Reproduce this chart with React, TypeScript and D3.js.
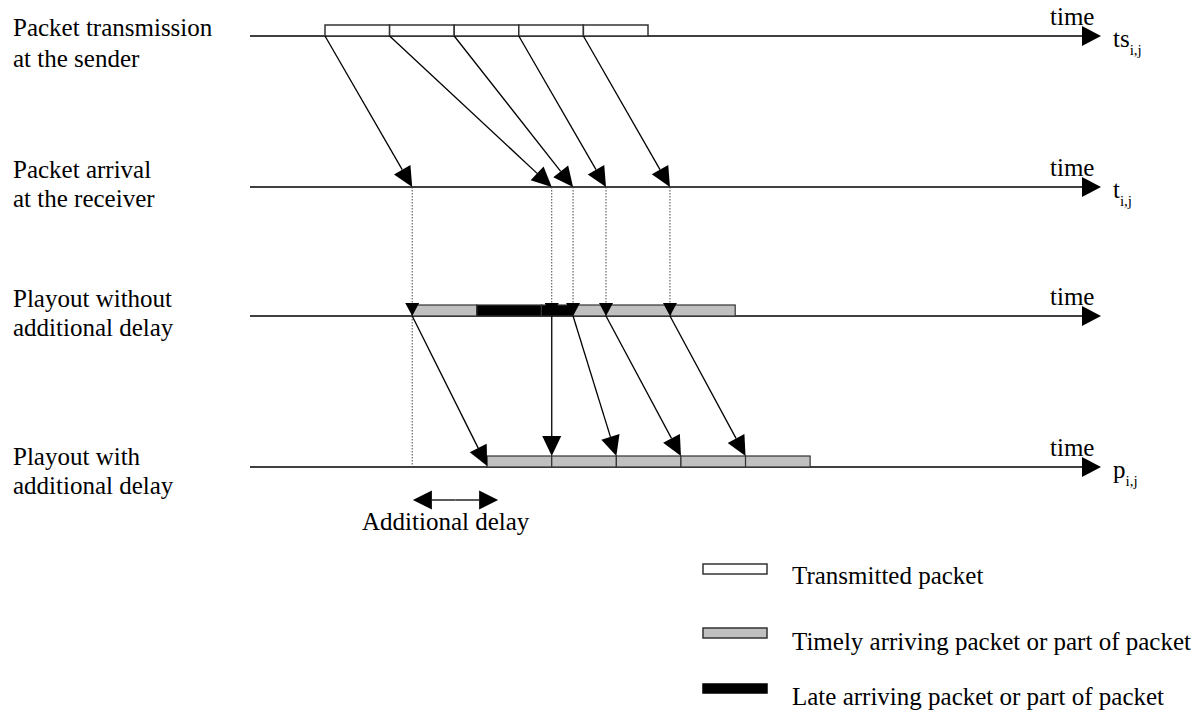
import React from "react";
import * as d3 from "d3";

// ---- data (time in packet-duration units) ----
const packetIds = [1, 2, 3, 4, 5];
const sendTimes = [0, 1, 2, 3, 4];
const arrivalTimes = [1.35, 3.51, 3.84, 4.35, 5.34];
const packetDuration = 1;
const playoutStartNoDelay = 1.35;
const playoutStartDelayed = 2.51;
const delayAnnotation = [1.36, 2.68];

const rowLabels = [
  ["Packet transmission", "at the sender"],
  ["Packet arrival", "at the receiver"],
  ["Playout without", "additional delay"],
  ["Playout with", "additional delay"],
];
const rowSymbols = [["ts", "i,j"], ["t", "i,j"], null, ["p", "i,j"]];
const axisLabel = "time";
const delayLabel = "Additional delay";
const legendItems = [
  { label: "Transmitted packet", kind: "sent" },
  { label: "Timely arriving packet or part of packet", kind: "timely" },
  { label: "Late arriving packet or part of packet", kind: "late" },
];

// ---- layout ----
const W = 1204;
const H = 713;
const rowY = [36, 187, 316, 467];
const labelBase = [[36, 67], [178, 207], [307, 336], [465, 494]];
const axisX0 = 250;
const axisTip = 1101;
const barH = 11;
const FONT = "Liberation Serif, Times New Roman, serif";
const textStyle = { fontFamily: FONT };

const x = d3.scaleLinear().domain([0, 1]).range([325, 389.6]);

const fillFor: Record<string, string> = { sent: "#ffffff", timely: "#c0c0c0", late: "#000000" };

function head(x1: number, y1: number, x2: number, y2: number, L: number, Wd: number) {
  const dx = x2 - x1, dy = y2 - y1;
  const len = Math.hypot(dx, dy);
  const ux = dx / len, uy = dy / len;
  const bx = x2 - ux * L, by = y2 - uy * L;
  const px = -uy * (Wd / 2), py = ux * (Wd / 2);
  return {
    bx, by,
    pts: `${x2},${y2} ${bx + px},${by + py} ${bx - px},${by - py}`,
  };
}

function Arrow({ x1, y1, x2, y2, L = 20, Wd = 19 }: any) {
  const h = head(x1, y1, x2, y2, L, Wd);
  return (
    <g>
      <line x1={x1} y1={y1} x2={h.bx} y2={h.by} stroke="#000" strokeWidth={1.3} />
      <polygon points={h.pts} fill="#000" />
    </g>
  );
}

function T({ x: tx, y: ty, size = 25, children }: any) {
  return (
    <text x={tx} y={ty} fontSize={size} fill="#000" style={textStyle}>{children}</text>
  );
}

export default function App() {
  // playout without delay: split into timely / late segments
  const segments: { s: number; e: number; kind: string }[] = [];
  packetIds.forEach((_, k) => {
    const s = playoutStartNoDelay + k * packetDuration;
    const e = s + packetDuration;
    const a = arrivalTimes[k];
    if (a <= s) segments.push({ s, e, kind: "timely" });
    else if (a >= e) segments.push({ s, e, kind: "late" });
    else {
      segments.push({ s, e: a, kind: "late" });
      segments.push({ s: a, e, kind: "timely" });
    }
  });

  return (
    <svg width={W} height={H} style={{ display: "block", position: "absolute", left: 0, top: 0, background: "#fff", fontFamily: FONT }}>
      <rect x={0} y={0} width={W} height={H} fill="#fff" />
      {/* row labels */}
      {rowLabels.map((lines, i) => (
        <g key={"lab" + i}>
          {lines.map((t, j) => (
            <T key={j} x={13} y={labelBase[i][j]}>{t}</T>
          ))}
        </g>
      ))}
      {/* axes */}
      {rowY.map((y, i) => (
        <g key={"ax" + i}>
          <Arrow x1={axisX0} y1={y} x2={axisTip} y2={y} L={19} Wd={20} />
          <T x={1050} y={y - 11}>{axisLabel}</T>
          {rowSymbols[i] && (
            <T x={1113} y={y + 11}>
              {rowSymbols[i]![0]}
              <tspan dy={8} fontSize={15}>{rowSymbols[i]![1]}</tspan>
            </T>
          )}
        </g>
      ))}
      {/* dotted guide lines */}
      {arrivalTimes.map((a, k) => (
        <line key={"dot" + k} x1={x(a)} x2={x(a)} y1={rowY[1]} y2={k === 0 ? rowY[3] - 2 : rowY[2] - 13}
          stroke="#444" strokeWidth={1} strokeDasharray="1.5,1.5" />
      ))}
      {/* sender packets */}
      {sendTimes.map((s, k) => (
        <rect key={"sp" + k} x={x(s)} y={rowY[0] - barH} width={x(s + packetDuration) - x(s)} height={barH}
          fill={fillFor.sent} stroke="#333" strokeWidth={1.5} />
      ))}
      {/* playout without delay */}
      {segments.map((sg, i) => (
        <rect key={"pw" + i} x={x(sg.s)} y={rowY[2] - barH} width={x(sg.e) - x(sg.s)} height={barH}
          fill={fillFor[sg.kind]} stroke="#333" strokeWidth={1.2} />
      ))}
      {/* playout with delay */}
      {packetIds.map((_, k) => {
        const s = playoutStartDelayed + k * packetDuration;
        return (
          <rect key={"pd" + k} x={x(s)} y={rowY[3] - barH} width={x(s + packetDuration) - x(s)} height={barH}
            fill={fillFor.timely} stroke="#333" strokeWidth={1.2} />
        );
      })}
      {/* arrival triangles on playout row */}
      {arrivalTimes.map((a, k) => {
        const h = head(x(a), rowY[2] - 20, x(a), rowY[2], 13, 14);
        return <polygon key={"tri" + k} points={h.pts} fill="#000" />;
      })}
      {/* sender -> receiver arrows */}
      {sendTimes.map((s, k) => (
        <Arrow key={"sa" + k} x1={x(s)} y1={rowY[0]} x2={x(arrivalTimes[k])} y2={rowY[1]} />
      ))}
      {/* playout arrows */}
      {arrivalTimes.map((a, k) => {
        const target = playoutStartDelayed + k * packetDuration;
        const y2 = k === 0 ? rowY[3] - 1 : rowY[3] - barH;
        return <Arrow key={"pa" + k} x1={x(a)} y1={rowY[2]} x2={x(target)} y2={y2} />;
      })}
      {/* additional delay annotation */}
      {(() => {
        const xa = x(delayAnnotation[0]), xb = x(delayAnnotation[1]);
        const y = 500;
        const mid = (xa + xb) / 2;
        return (
          <g>
            <Arrow x1={mid} y1={y} x2={xa} y2={y} L={19} Wd={19} />
            <Arrow x1={mid} y1={y} x2={xb} y2={y} L={19} Wd={19} />
            <T x={362} y={530}>{delayLabel}</T>
          </g>
        );
      })()}
      {/* legend */}
      {legendItems.map((it, i) => {
        const boxY = [564, 628, 684][i];
        const textY = [584, 650, 705][i];
        return (
          <g key={"lg" + i}>
            <rect x={703} y={boxY} width={64} height={it.kind === "late" ? 9 : 10}
              fill={fillFor[it.kind]} stroke={it.kind === "late" ? "#000" : "#333"} strokeWidth={1.5} />
            <T x={792} y={textY}>{it.label}</T>
          </g>
        );
      })}
    </svg>
  );
}
